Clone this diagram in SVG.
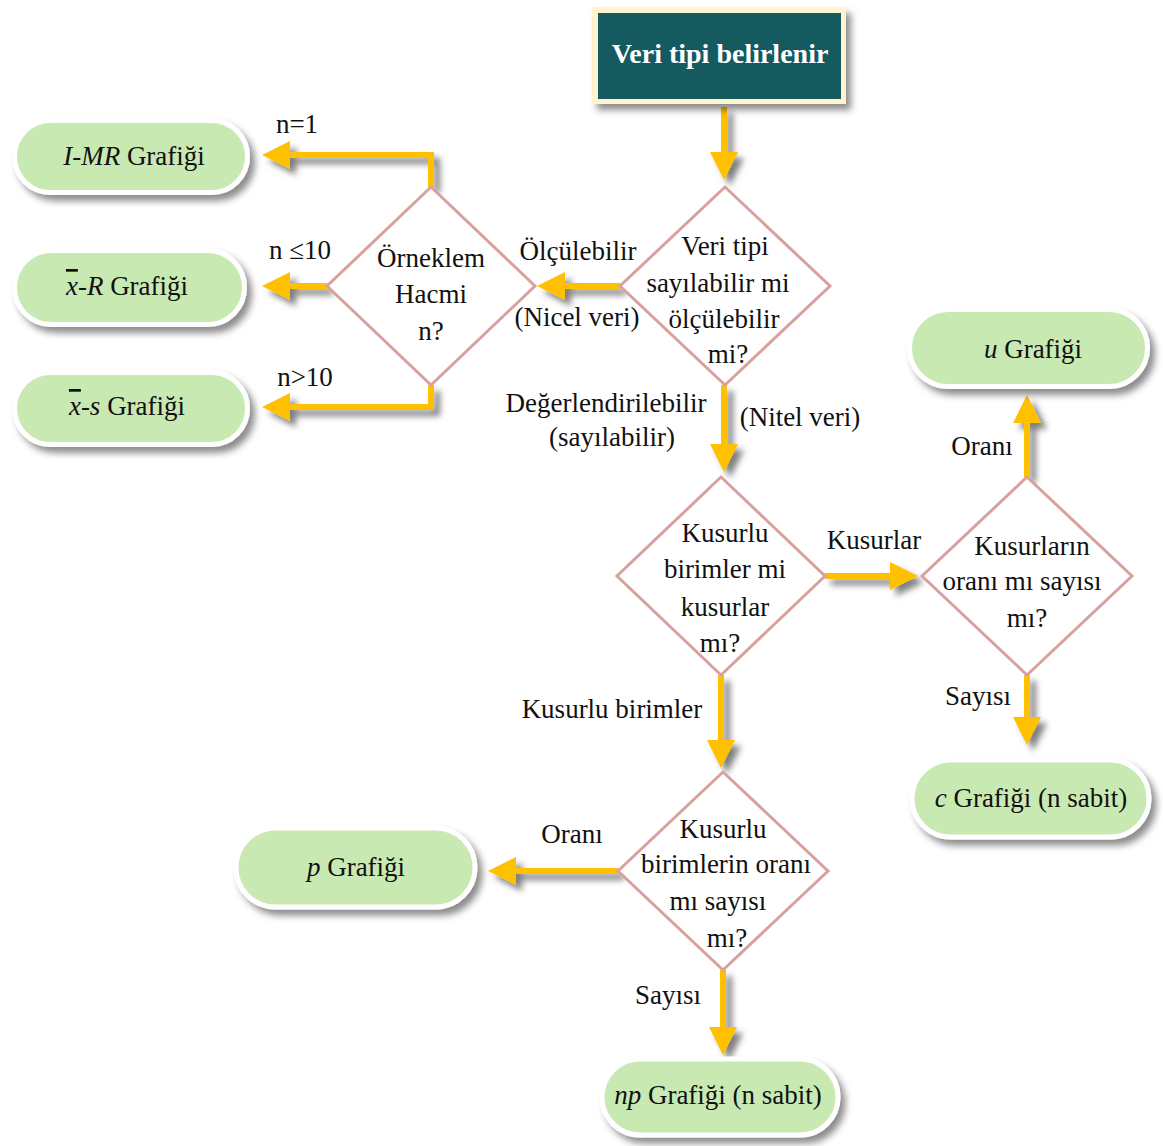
<svg xmlns="http://www.w3.org/2000/svg" width="1163" height="1146" viewBox="0 0 1163 1146">
<defs>
<style>
text{font-family:"Liberation Serif","Times New Roman",serif;font-size:27px;fill:#111;text-anchor:middle}
.it{font-style:italic}
.ov{text-decoration:overline}
.dia{fill:#fff;stroke:#D9A09E;stroke-width:3}
.pill{fill:#C9E9B3;stroke:#fff;stroke-width:5}
.con{fill:none;stroke:#FFC000;stroke-width:6;stroke-linejoin:miter}
.title{font-weight:bold;font-size:28px;fill:#fff}
</style>
<filter id="sh" x="-20%" y="-30%" width="150%" height="170%">
<feDropShadow dx="5" dy="6" stdDeviation="3.5" flood-color="#000" flood-opacity="0.45"/>
</filter>
<filter id="ash" x="-50%" y="-50%" width="200%" height="200%">
<feDropShadow dx="6" dy="6" stdDeviation="3" flood-color="#000" flood-opacity="0.5"/>
</filter>
<marker id="ah" viewBox="0 0 28 28" refX="0" refY="14" markerWidth="28" markerHeight="28" markerUnits="userSpaceOnUse" orient="auto">
<path d="M0,0 L28,14 L0,28 z" fill="#FFC000"/>
</marker>
</defs>
<rect width="1163" height="1146" fill="#fff"/>

<g id="connectors" filter="url(#ash)">
<path class="con" d="M724,107 V152" marker-end="url(#ah)"/>
<path class="con" d="M620,286 H565" marker-end="url(#ah)"/>
<path class="con" d="M431,187 V155 H290" marker-end="url(#ah)"/>
<path class="con" d="M327,286 H290" marker-end="url(#ah)"/>
<path class="con" d="M431,385 V407 H290" marker-end="url(#ah)"/>
<path class="con" d="M724,385 V444" marker-end="url(#ah)"/>
<path class="con" d="M825,576 H890" marker-end="url(#ah)"/>
<path class="con" d="M1027,477 V423" marker-end="url(#ah)"/>
<path class="con" d="M1027,675 V717" marker-end="url(#ah)"/>
<path class="con" d="M721,675 V740" marker-end="url(#ah)"/>
<path class="con" d="M618,871 H516" marker-end="url(#ah)"/>
<path class="con" d="M723,970 V1027" marker-end="url(#ah)"/>
</g>

<g id="labels">
<text x="297" y="133">n=1</text>
<text x="300" y="259">n ≤10</text>
<text x="305" y="386">n&gt;10</text>
<text x="578" y="260">Ölçülebilir</text>
<text x="577" y="326">(Nicel veri)</text>
<text x="606" y="412">Değerlendirilebilir</text>
<text x="612" y="446">(sayılabilir)</text>
<text x="800" y="426">(Nitel veri)</text>
<text x="874" y="549">Kusurlar</text>
<text x="982" y="455">Oranı</text>
<text x="978" y="705">Sayısı</text>
<text x="612" y="718">Kusurlu birimler</text>
<text x="572" y="843">Oranı</text>
<text x="668" y="1004">Sayısı</text>
</g>

<g id="start">
<rect x="592" y="7" width="254" height="97" fill="#FFF4CF" filter="url(#sh)"/>
<rect x="598" y="13" width="243" height="86" fill="#155A5F"/>
<text class="title" x="720" y="63">Veri tipi belirlenir</text>
</g>

<g id="d1">
<polygon class="dia" points="725,187 830,286 725,385 620,286"/>
<text x="725" y="255">Veri tipi</text>
<text x="718" y="292">sayılabilir mi</text>
<text x="724" y="328">ölçülebilir</text>
<text x="728" y="363">mi?</text>
</g>

<g id="d2">
<polygon class="dia" points="431,187 535,286 431,385 327,286"/>
<text x="431" y="267">Örneklem</text>
<text x="431" y="303">Hacmi</text>
<text x="431" y="340">n?</text>
</g>

<g id="d3">
<polygon class="dia" points="721,477 825,576 721,675 617,576"/>
<text x="725" y="542">Kusurlu</text>
<text x="725" y="578">birimler mi</text>
<text x="725" y="616">kusurlar</text>
<text x="720" y="652">mı?</text>
</g>

<g id="d4">
<polygon class="dia" points="1027,477 1132,576 1027,675 922,576"/>
<text x="1032" y="555">Kusurların</text>
<text x="1022" y="590">oranı mı sayısı</text>
<text x="1027" y="627">mı?</text>
</g>

<g id="d5">
<polygon class="dia" points="723,772 828,871 723,970 618,871"/>
<text x="723" y="838">Kusurlu</text>
<text x="726" y="873">birimlerin oranı</text>
<text x="718" y="910">mı sayısı</text>
<text x="727" y="947">mı?</text>
</g>

<g id="t-imr">
<rect class="pill" x="14.5" y="120.5" width="233" height="72" rx="36" filter="url(#sh)"/>
<text x="134" y="165"><tspan class="it">I-MR</tspan> Grafiği</text>
</g>

<g id="t-xr">
<rect class="pill" x="14.5" y="250.5" width="230" height="74" rx="37" filter="url(#sh)"/>
<text x="127" y="295"><tspan class="it ov">x</tspan><tspan class="it">-R</tspan> Grafiği</text>
</g>

<g id="t-xs">
<rect class="pill" x="14.5" y="372.5" width="233" height="72" rx="36" filter="url(#sh)"/>
<text x="127" y="415"><tspan class="it ov">x</tspan><tspan class="it">-s</tspan> Grafiği</text>
</g>

<g id="t-u">
<rect class="pill" x="909.5" y="309.5" width="238" height="77" rx="38.5" filter="url(#sh)"/>
<text x="1033" y="358"><tspan class="it">u</tspan> Grafiği</text>
</g>

<g id="t-c">
<rect class="pill" x="912" y="760" width="237" height="77" rx="38.5" filter="url(#sh)"/>
<text x="1031" y="807"><tspan class="it">c</tspan> Grafiği (n sabit)</text>
</g>

<g id="t-p">
<rect class="pill" x="236" y="828" width="239" height="79" rx="39.5" filter="url(#sh)"/>
<text x="356" y="876"><tspan class="it">p</tspan> Grafiği</text>
</g>

<g id="t-np">
<rect class="pill" x="602" y="1059" width="236" height="76" rx="38" filter="url(#sh)"/>
<text x="718" y="1104"><tspan class="it">np</tspan> Grafiği (n sabit)</text>
</g>
</svg>
